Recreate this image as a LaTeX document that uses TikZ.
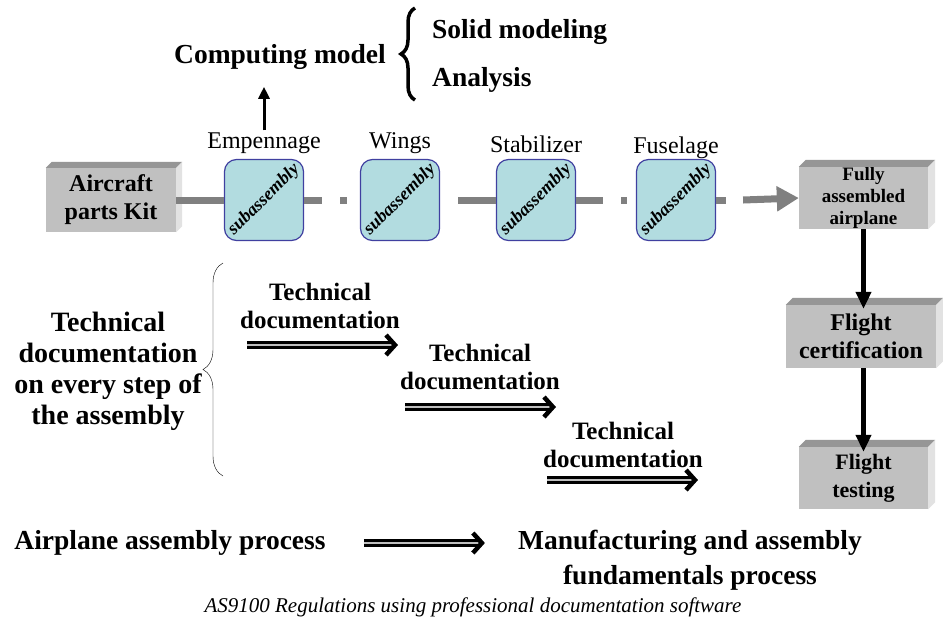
\documentclass[tikz,border=0pt]{standalone}
\usepackage{fontspec}
\setmainfont{Liberation Serif}
\usetikzlibrary{arrows.meta,decorations.pathreplacing}
\definecolor{kitfront}{RGB}{192,192,192}
\definecolor{kittop}{RGB}{150,150,150}
\definecolor{kitside}{RGB}{226,226,226}
\definecolor{subfill}{RGB}{178,220,224}
\definecolor{subline}{RGB}{64,64,160}
\definecolor{linkgray}{RGB}{128,128,128}

\begin{document}
\begin{tikzpicture}[x=1pt,y=-1pt,
  every node/.style={inner sep=0pt},
  kitbox/.style={fill=kitfront,align=center},
  subbox/.style={fill=subfill,draw=subline,line width=1.2pt,rounded corners=12pt,minimum width=79pt,minimum height=81pt},
  link/.style={linkgray,line width=7pt},
  down/.style={line width=4.5pt,-{Triangle[length=17pt,width=15pt]}},
  dblline/.style={double=gray!50,double distance=2pt,line width=3pt,shorten >=5pt},
  dbltip/.style={gray!50,line width=1pt,-{Straight Barb[black,length=9pt,width=20pt,line width=4.5pt]}},
  bigtext/.style={font=\fontsize{27.5}{35}\selectfont\bfseries,align=center}]
\useasboundingbox[fill=white] (0,0) rectangle (943,630);

% computing model
\node[bigtext] (cm) at (280,57) {Computing model};
\node[bigtext,anchor=west] (solid) at (432,32) {Solid modeling};
\node[bigtext,anchor=west] (anl) at (432,80) {Analysis};
\draw[line width=3.5pt,decorate,decoration={brace,amplitude=14pt}] (415,100) -- (415,8);

% kit and final boxes
\node[kitbox,minimum width=130pt,minimum height=64pt,font=\fontsize{24}{28}\selectfont\bfseries] (kit) at (111,200) {Aircraft\\parts Kit};
\node[kitbox,minimum width=129pt,minimum height=62pt,font=\fontsize{19}{22}\selectfont\bfseries] (fully) at (863.5,198) {Fully\\assembled\\airplane};
\node[kitbox,minimum width=150pt,minimum height=63pt,font=\fontsize{24}{28}\selectfont\bfseries] (cert) at (861,336.5) {Flight\\certification};
\node[kitbox,minimum width=129pt,minimum height=62pt,font=\fontsize{22}{28}\selectfont\bfseries] (test) at (863.5,478) {Flight\\testing};
\foreach \b/\d in {kit/6,fully/7,cert/7,test/7}{
  \fill[kittop] (\b.north west) -- ++(\d,-\d) -- ([shift={(\d,-\d)}]\b.north east) -- (\b.north east) -- cycle;
  \fill[kitside] (\b.north east) -- ++(\d,-\d) -- ([shift={(\d,-\d)}]\b.south east) -- (\b.south east) -- cycle;
}

% subassemblies
\foreach \x/\n/\lab/\ly in {264/emp/Empennage/143,400/wing/Wings/143,536/stab/Stabilizer/144,676/fuse/Fuselage/148}{
  \node[subbox] (\n) at (\x,200) {\rotatebox[origin=c]{45}{\fontsize{18}{20}\selectfont\bfseries\itshape subassembly}};
  \node[font=\fontsize{24}{28}\selectfont] (lab\n) at (\x,\ly) {\lab};
}
\draw[link] (kit.east) -- (emp.west);
\draw[link,dash pattern=on 18pt off 18pt on 7pt off 20pt] (emp.east) -- (wing.west);
\draw[link] ([xshift=18pt]wing.east) -- (stab.west);
\draw[link,dash pattern=on 27pt off 18pt on 6pt off 20pt] (stab.east) -- (fuse.west);
\draw[link] (fuse.east) -- ([xshift=10pt]fuse.east);
\draw[link,-{Triangle[length=22pt,width=24pt]}] ([xshift=27pt]fuse.east) -- (fully.west);
\draw[line width=3pt,-{Triangle[length=12pt,width=11pt]},shorten <=2pt,shorten >=17pt] (labemp.north) -- (labemp.north |- cm.south);

\draw[down,shorten >=-4pt] (fully.south) -- (fully.south |- cert.north);
\draw[down,shorten >=-5pt] (test.north |- cert.south) -- (test.north);

% documentation
\node[font=\fontsize{28}{31}\selectfont\bfseries,align=center] (every) at (108,371) {Technical\\documentation\\on every step of\\the assembly};
\draw[decorate,decoration={brace,amplitude=20pt}] (223,476) -- (223,263);
\foreach \i/\x/\y/\ax/\ay in {1/320/306/247/345,2/480/367/405/407,3/623/445/547/480}{
  \node[font=\fontsize{25}{28}\selectfont\bfseries,align=center] (td\i) at (\x,\y) {Technical\\documentation};
  \coordinate (ts\i) at (\ax,\ay);
  \coordinate (te\i) at (\ax+151,\ay);
  \draw[dblline] (ts\i) -- (te\i);
  \draw[dbltip] (ts\i) -- (te\i);
}

% bottom
\node[bigtext] (asm) at (170,543) {Airplane assembly process};
\node[bigtext] (mfg) at (690,560) {Manufacturing and assembly\\fundamentals process};
\draw[dblline,shorten <=38pt,shorten >=38pt] (asm.east) -- (asm.east -| mfg.west);
\draw[dbltip,shorten <=38pt,shorten >=33pt] (asm.east) -- (asm.east -| mfg.west);
\node[font=\fontsize{21}{24}\selectfont\itshape] (cap) at (473,607) {AS9100 Regulations using professional documentation software};
\end{tikzpicture}
\end{document}
